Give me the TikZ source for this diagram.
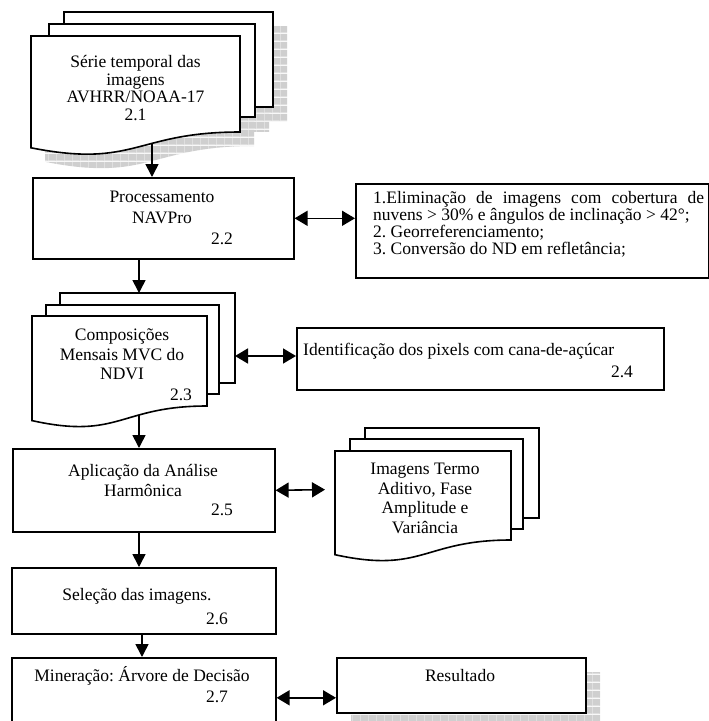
\documentclass[tikz,border=0pt]{standalone}
\usepackage{fontspec}
\setmainfont{Liberation Serif}
\frenchspacing
\usetikzlibrary{arrows.meta,patterns.meta}
\tikzdeclarepattern{
  name=shgrid,
  type=colored,
  bottom left={(0pt,0pt)},
  top right={(8pt,8pt)},
  tile size={(8pt,8pt)},
  code={
    \fill[gray!38] (0pt,0pt) rectangle (8pt,8pt);
    \draw[gray!18, line width=0.7pt] (0pt,0.35pt) -- (8pt,0.35pt) (0.35pt,0pt) -- (0.35pt,8pt);
  }
}
\begin{document}
\begin{tikzpicture}[x=1pt,y=-1pt,
  box/.style={draw, line width=1.6pt, fill=white, inner sep=0pt, anchor=north west},
  sheet/.style={draw, line width=1.6pt, fill=white},
  arr/.style={line width=1.6pt, -{Triangle[length=13pt,width=13pt]}},
  darr/.style={line width=1.6pt, {Triangle[length=13pt,width=15pt]}-{Triangle[length=13pt,width=15pt]}},
  lbl/.style={inner sep=0pt, align=center, font=\fontsize{17.5}{19.5}\selectfont},
  lft/.style={inner sep=0pt, anchor=base west, font=\fontsize{17.5}{17}\selectfont}]
\fill[white] (0,0) rectangle (709,721);
\useasboundingbox (0,0) rectangle (709,721);

% ---- shadows
\fill[pattern=shgrid] (78,26) -- (287,26) -- (287,121) -- (78,121) -- cycle;
\fill[pattern=shgrid] (63,38) -- (269,38) -- (269,131) -- (63,131) -- cycle;
\fill[pattern=shgrid] (45,50) -- (254,50) -- (254,146) .. controls (149.5,146) and (149.5,182.5) .. (45,161.8) -- cycle;
\fill[pattern=shgrid] (351,672) -- (600,672) -- (600,727) -- (351,727) -- cycle;

% ---- 2.1 multi-document
\draw[sheet] (64,12) rectangle (273,107);
\draw[sheet] (49,24) rectangle (255,117);
\draw[sheet] (31,36) -- (240,36) -- (240,132) .. controls (135.5,132) and (135.5,168.5) .. (31,147.8) -- cycle;
\node[lbl, font=\fontsize{17.5}{17.5}\selectfont] (t21) at (135.5,88) {Série temporal das\\imagens\\AVHRR/NOAA-17\\2.1};
\coordinate (d21b) at (152,143.5);

% ---- 2.2
\node[box, minimum width=261pt, minimum height=81pt] (b22) at (32,177) {};
\node[lbl, font=\fontsize{17.5}{21}\selectfont] (t22) at (162,207.5) {Processamento\\NAVPro};
\node[lbl] (n22) at (222,239) {2.2};

% ---- list box
\node[box, minimum width=353pt, minimum height=94pt] (blist) at (355,183) {};
\node[lft] (l1) at (373,203.5) {\makebox[331pt][s]{1.Eliminação de imagens com cobertura de}};
\node[lft] (l2) at (373,220.5) {nuvens > 30\% e ângulos de inclinação > 42°;};
\node[lft] (l3) at (373,237.5) {2. Georreferenciamento;};
\node[lft] (l4) at (373,254) {3. Conversão do ND em refletância;};

% ---- 2.3 multi-document
\draw[sheet] (60,293) rectangle (235,383);
\draw[sheet] (46,305) rectangle (219,394);
\draw[sheet] (32,316) -- (207,316) -- (207,406) .. controls (119.5,406) and (119.5,440) .. (32,420.6) -- cycle;
\node[lbl] (t23) at (122,354.7) {Composições\\Mensais MVC do\\NDVI};
\node[lbl] (n23) at (181,395) {2.3};
\coordinate (d23t) at (139,293);
\coordinate (d23r) at (235,356);
\coordinate (d23b) at (139,415);

% ---- 2.4
\node[box, minimum width=367pt, minimum height=62pt] (b24) at (296,327) {};
\node[inner sep=0pt, anchor=west, font=\fontsize{17.5}{19}\selectfont] (t24) at (303,351) {Identificação dos pixels com cana-de-açúcar};
\node[lbl] (n24) at (622,372) {2.4};

% ---- 2.5
\node[box, minimum width=262pt, minimum height=83pt] (b25) at (12,448) {};
\node[lbl, font=\fontsize{17.5}{20}\selectfont] (t25) at (143,480) {Aplicação da Análise\\Harmônica};
\node[lbl] (n25) at (222,510) {2.5};

% ---- images multi-document
\draw[sheet] (365,428) rectangle (539,518);
\draw[sheet] (350,439) rectangle (523,529);
\draw[sheet] (335,451) -- (511,451) -- (511,540) .. controls (423,540) and (423,573.9) .. (335,554.7) -- cycle;
\node[lbl, font=\fontsize{17.5}{19.7}\selectfont] (timg) at (425,498.5) {Imagens Termo\\Aditivo, Fase\\Amplitude e\\Variância};
\coordinate (dimw) at (335,489.5);

% ---- 2.6
\node[box, minimum width=264pt, minimum height=66pt] (b26) at (11,567) {};
\node[lbl] (t26) at (137,596) {Seleção das imagens.};
\node[lbl] (n26) at (217,619) {2.6};

% ---- 2.7
\node[box, minimum width=264pt, minimum height=80pt] (b27) at (11,657) {};
\node[lbl] (t27) at (142,676) {Mineração: Árvore de Decisão};
\node[lbl] (n27) at (217,697) {2.7};

% ---- Resultado
\node[box, minimum width=249pt, minimum height=55pt] (bres) at (336,657) {};
\node[lbl] (tres) at (460,676) {Resultado};

% ---- connectors
\coordinate (ax) at (139,0);
\coordinate (ax2) at (142,0);
\draw[arr] (d21b) -- (d21b |- b22.north);
\draw[darr] (b22.east) -- (b22.east -| blist.west);
\draw[arr] (b22.south -| d23t) -- (d23t);
\draw[darr] (d23r) -- (d23r -| b24.west);
\draw[arr] (d23b) -- (d23b |- b25.north);
\draw[darr, shorten >=10pt] (b25.east) -- (dimw);
\draw[arr] (b25.south -| ax) -- (b26.north -| ax);
\draw[arr] (b26.south -| ax2) -- (b27.north -| ax2);
\draw[darr] (b27.east) -- (b27.east -| bres.west);
\end{tikzpicture}
\end{document}
